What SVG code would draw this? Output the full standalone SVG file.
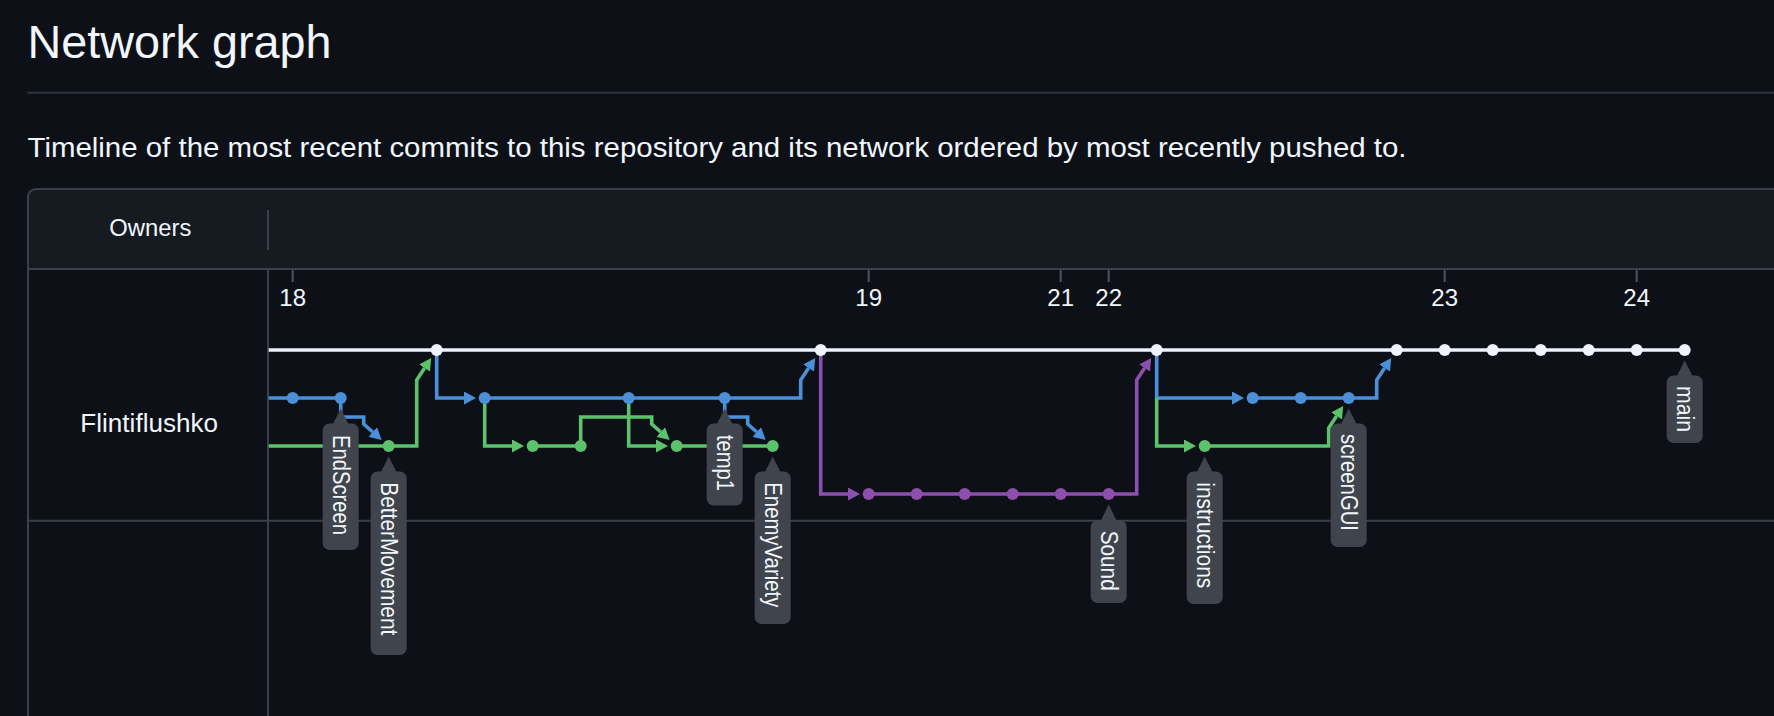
<svg xmlns="http://www.w3.org/2000/svg" width="1774" height="716" viewBox="0 0 1774 716">
<style>
text{font-family:"Liberation Sans",Arial,sans-serif;fill:#f0f6fc}
.bd{stroke:#3a4048;stroke-width:2;fill:none}
.tick{stroke:#4d545d;stroke-width:2}
.tl{font-size:24px;text-anchor:middle}
.ln{fill:none;stroke-width:3.6;stroke-linejoin:miter;stroke-linecap:butt}
.w{stroke:#eef3fb}.b{stroke:#4b90d8}.g{stroke:#5cc26b}.p{stroke:#8c4fae}
.dw{fill:#eef3fb}.db{fill:#4b90d8}.dg{fill:#5cc26b}.dp{fill:#8c4fae}
.lb{fill:#40444c}
.lt{font-size:23px}
</style>
<defs>
<marker id="ab" viewBox="0 0 12 13" refX="0" refY="6.5" markerWidth="12" markerHeight="13" markerUnits="userSpaceOnUse" orient="auto"><path d="M0,0 L12,6.5 L0,13 z" fill="#4b90d8"/></marker>
<marker id="ag" viewBox="0 0 12 13" refX="0" refY="6.5" markerWidth="12" markerHeight="13" markerUnits="userSpaceOnUse" orient="auto"><path d="M0,0 L12,6.5 L0,13 z" fill="#5cc26b"/></marker>
<marker id="ap" viewBox="0 0 12 13" refX="0" refY="6.5" markerWidth="12" markerHeight="13" markerUnits="userSpaceOnUse" orient="auto"><path d="M0,0 L12,6.5 L0,13 z" fill="#8c4fae"/></marker>
</defs>
<rect x="0" y="0" width="1774" height="716" fill="#0d1117"/>
<g id="page">
<text x="27.5" y="58" font-size="46" textLength="304" lengthAdjust="spacingAndGlyphs">Network graph</text>
<line x1="27.5" y1="92.7" x2="1774" y2="92.7" stroke="#30363d" stroke-width="2"/>
<text x="27.5" y="156.7" font-size="27.5" textLength="1379" lengthAdjust="spacingAndGlyphs">Timeline of the most recent commits to this repository and its network ordered by most recently pushed to.</text>
</g>
<g id="table">
<path d="M28,760 V198 Q28,189 37,189 H1790 V269 H28 Z" fill="#161b22"/>
<path class="bd" d="M28,760 V198 Q28,189 37,189 H1790"/>
<line class="bd" x1="28" y1="269" x2="1774" y2="269"/>
<line class="bd" x1="28" y1="520.7" x2="1774" y2="520.7"/>
<line class="bd" x1="268" y1="210" x2="268" y2="250"/>
<line class="bd" x1="268" y1="269" x2="268" y2="716"/>
<text x="150.3" y="236" font-size="24" text-anchor="middle" textLength="82" lengthAdjust="spacingAndGlyphs">Owners</text>
<text x="149.2" y="431.7" font-size="25.5" text-anchor="middle" textLength="137.7" lengthAdjust="spacingAndGlyphs">Flintiflushko</text>
</g>
<g id="axis">
<line class="tick" x1="292.7" y1="270" x2="292.7" y2="282"/>
<line class="tick" x1="868.7" y1="270" x2="868.7" y2="282"/>
<line class="tick" x1="1060.7" y1="270" x2="1060.7" y2="282"/>
<line class="tick" x1="1108.7" y1="270" x2="1108.7" y2="282"/>
<line class="tick" x1="1444.7" y1="270" x2="1444.7" y2="282"/>
<line class="tick" x1="1636.7" y1="270" x2="1636.7" y2="282"/>
<text class="tl" x="292.7" y="306">18</text>
<text class="tl" x="868.7" y="306">19</text>
<text class="tl" x="1060.7" y="306">21</text>
<text class="tl" x="1108.7" y="306">22</text>
<text class="tl" x="1444.7" y="306">23</text>
<text class="tl" x="1636.7" y="306">24</text>
</g>
<g id="connectors">
<path class="ln w" d="M268.7,350 H1684.7"/>
<path class="ln b" d="M268.7,398 H340.7"/>
<path class="ln g" d="M268.7,446 H388.7"/>
<path class="ln b" d="M340.7,398 V417 H363.7 V424 L372.7,432" marker-end="url(#ab)"/>
<path class="ln g" d="M388.7,446 H416.7 V380 L424.6,368" marker-end="url(#ag)"/>
<path class="ln b" d="M436.7,350 V398 H464" marker-end="url(#ab)"/>
<path class="ln b" d="M484.7,398 H724.7"/>
<path class="ln g" d="M484.7,398 V446 H512" marker-end="url(#ag)"/>
<path class="ln g" d="M532.7,446 H580.7"/>
<path class="ln g" d="M580.7,446 V417 H651.7 V424 L660.7,432" marker-end="url(#ag)"/>
<path class="ln g" d="M628.7,398 V446 H656" marker-end="url(#ag)"/>
<path class="ln g" d="M676.7,446 H772.7"/>
<path class="ln b" d="M724.7,398 V417 H747.7 V424 L756.7,432" marker-end="url(#ab)"/>
<path class="ln b" d="M724.7,398 H800.7 V380 L808.6,368" marker-end="url(#ab)"/>
<path class="ln p" d="M820.7,350 V494 H848" marker-end="url(#ap)"/>
<path class="ln p" d="M868.7,494 H1108.7"/>
<path class="ln p" d="M1108.7,494 H1136.7 V380 L1144.6,368" marker-end="url(#ap)"/>
<path class="ln b" d="M1156.7,350 V398 H1232" marker-end="url(#ab)"/>
<path class="ln g" d="M1156.7,398 V446 H1184" marker-end="url(#ag)"/>
<path class="ln b" d="M1252.7,398 H1348.7"/>
<path class="ln g" d="M1204.7,446 H1328.7 V428 L1336.6,416" marker-end="url(#ag)"/>
<path class="ln b" d="M1348.7,398 H1376.7 V380 L1384.6,368" marker-end="url(#ab)"/>
</g>
<g id="commits">
<g id="main-commits" class="dw">
<circle cx="436.7" cy="350" r="6"/><circle cx="820.7" cy="350" r="6"/><circle cx="1156.7" cy="350" r="6"/>
<circle cx="1396.7" cy="350" r="6"/><circle cx="1444.7" cy="350" r="6"/><circle cx="1492.7" cy="350" r="6"/>
<circle cx="1540.7" cy="350" r="6"/><circle cx="1588.7" cy="350" r="6"/><circle cx="1636.7" cy="350" r="6"/><circle cx="1684.7" cy="350" r="6"/>
</g>
<g id="blue-commits" class="db">
<circle cx="292.7" cy="398" r="6"/><circle cx="340.7" cy="398" r="6"/><circle cx="484.7" cy="398" r="6"/><circle cx="628.7" cy="398" r="6"/>
<circle cx="724.7" cy="398" r="6"/><circle cx="1252.7" cy="398" r="6"/><circle cx="1300.7" cy="398" r="6"/><circle cx="1348.7" cy="398" r="6"/>
</g>
<g id="green-commits" class="dg">
<circle cx="388.7" cy="446" r="6"/><circle cx="532.7" cy="446" r="6"/><circle cx="580.7" cy="446" r="6"/>
<circle cx="676.7" cy="446" r="6"/><circle cx="772.7" cy="446" r="6"/><circle cx="1204.7" cy="446" r="6"/>
</g>
<g id="purple-commits" class="dp">
<circle cx="868.7" cy="494" r="6"/><circle cx="916.7" cy="494" r="6"/><circle cx="964.7" cy="494" r="6"/>
<circle cx="1012.7" cy="494" r="6"/><circle cx="1060.7" cy="494" r="6"/><circle cx="1108.7" cy="494" r="6"/>
</g>
</g>
<g id="label-EndScreen">
<polygon class="lb" points="340.7,408.5 348.7,424.5 332.7,424.5"/>
<rect class="lb" x="322.7" y="423.5" width="36" height="126.5" rx="7"/>
<text class="lt" transform="translate(340.7,435) rotate(90)" x="0" y="7.5" textLength="100" lengthAdjust="spacingAndGlyphs">EndScreen</text>
</g>
<g id="label-BetterMovement">
<polygon class="lb" points="388.7,456.5 396.7,472.5 380.7,472.5"/>
<rect class="lb" x="370.7" y="471.5" width="36" height="183.5" rx="7"/>
<text class="lt" transform="translate(388.7,482.3) rotate(90)" x="0" y="7.5" textLength="153" lengthAdjust="spacingAndGlyphs">BetterMovement</text>
</g>
<g id="label-temp1">
<polygon class="lb" points="724.7,408.5 732.7,424.5 716.7,424.5"/>
<rect class="lb" x="706.7" y="423.5" width="36" height="82" rx="7"/>
<text class="lt" transform="translate(724.7,435) rotate(90)" x="0" y="7.5" textLength="56" lengthAdjust="spacingAndGlyphs">temp1</text>
</g>
<g id="label-EnemyVariety">
<polygon class="lb" points="772.7,456.5 780.7,472.5 764.7,472.5"/>
<rect class="lb" x="754.7" y="471.5" width="36" height="152.5" rx="7"/>
<text class="lt" transform="translate(772.7,482.3) rotate(90)" x="0" y="7.5" textLength="125" lengthAdjust="spacingAndGlyphs">EnemyVariety</text>
</g>
<g id="label-Sound">
<polygon class="lb" points="1108.7,504.5 1116.7,521 1100.7,521"/>
<rect class="lb" x="1090.7" y="520" width="36" height="83" rx="7"/>
<text class="lt" transform="translate(1108.7,530.7) rotate(90)" x="0" y="7.5" textLength="60" lengthAdjust="spacingAndGlyphs">Sound</text>
</g>
<g id="label-instructions">
<polygon class="lb" points="1204.7,456.5 1212.7,472.5 1196.7,472.5"/>
<rect class="lb" x="1186.7" y="471.5" width="36" height="132.5" rx="7"/>
<text class="lt" transform="translate(1204.7,482.3) rotate(90)" x="0" y="7.5" textLength="106" lengthAdjust="spacingAndGlyphs">instructions</text>
</g>
<g id="label-screenGUI">
<polygon class="lb" points="1348.7,408.5 1356.7,424.5 1340.7,424.5"/>
<rect class="lb" x="1330.7" y="423.5" width="36" height="123.5" rx="7"/>
<text class="lt" transform="translate(1348.7,434) rotate(90)" x="0" y="7.5" textLength="97" lengthAdjust="spacingAndGlyphs">screenGUI</text>
</g>
<g id="label-main">
<polygon class="lb" points="1684.7,360.5 1692.7,376.5 1676.7,376.5"/>
<rect class="lb" x="1666.7" y="375.5" width="36" height="67.5" rx="7"/>
<text class="lt" transform="translate(1684.7,386) rotate(90)" x="0" y="7.5" textLength="46" lengthAdjust="spacingAndGlyphs">main</text>
</g>
</svg>
